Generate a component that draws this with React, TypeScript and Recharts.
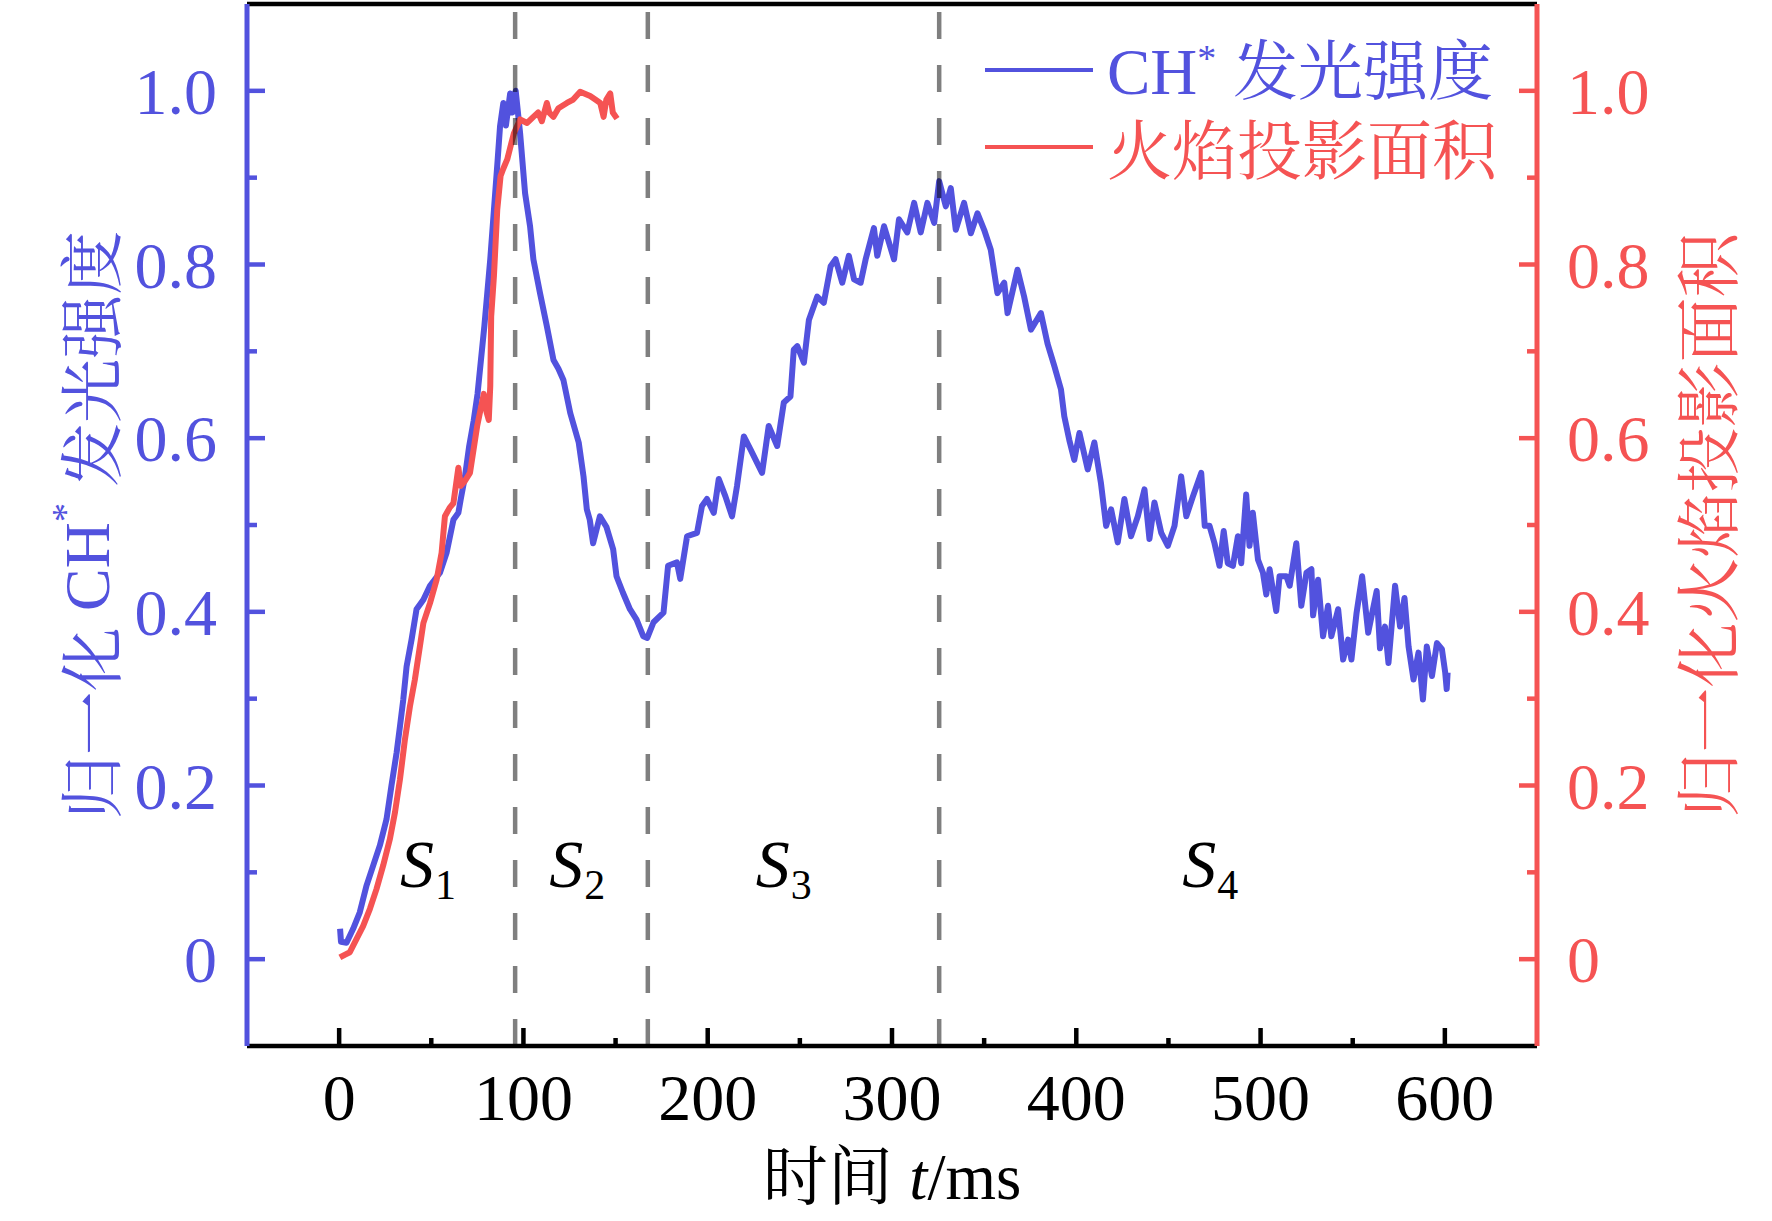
import React from "react";
import {
  LineChart,
  Line,
  XAxis,
  YAxis,
  ReferenceLine,
  ReferenceDot,
  Legend,
  Label,
} from "recharts";

const BLUE = "#5252DE";
const RED = "#F55353";
const SERIF = '"Liberation Serif", "Times New Roman", serif';
const CJK = '"Noto Serif CJK SC", "Noto Sans CJK SC", serif';

const xTicks = [0, 50, 100, 150, 200, 250, 300, 350, 400, 450, 500, 550, 600];
const yTicks = [0, 0.1, 0.2, 0.3, 0.4, 0.5, 0.6, 0.7, 0.8, 0.9, 1.0];

// stage boundaries (ms)
const stageBounds = [95.5, 167.5, 325.6];

// stage name anchors: [t (ms), value, subscript]
const stageLabels: [number, number, string][] = [
  [33, 0.083, "1"],
  [114, 0.083, "2"],
  [226, 0.083, "3"],
  [457.5, 0.083, "4"],
];

// normalised CH* intensity: [t (ms), value]
const chPoints: [number, number][] = [
  [0.5, 0.035], [1, 0.02], [4, 0.019], [7.6, 0.035], [11.2, 0.054], [14.9, 0.085],
  [18.5, 0.108], [22.1, 0.131], [25.7, 0.161], [28.4, 0.2], [31.2, 0.238], [33, 0.268],
  [34.8, 0.299], [36.6, 0.337], [39.3, 0.368], [42, 0.403], [45.7, 0.414], [49.3, 0.43],
  [54.7, 0.445], [58.3, 0.468], [62, 0.506], [64.7, 0.514], [66, 0.53], [68.3, 0.556],
  [70.5, 0.59], [73, 0.62], [75.1, 0.651], [78.8, 0.729], [82, 0.806], [84, 0.863],
  [86, 0.92], [87.3, 0.959], [89.1, 0.986], [90.5, 0.96], [92.8, 0.997], [94, 0.975],
  [95.8, 1.0], [98.2, 0.951], [100.9, 0.882], [103.6, 0.844], [105.4, 0.806], [109, 0.767],
  [112.7, 0.729], [116.3, 0.69], [119, 0.68], [121.7, 0.667], [125.4, 0.629], [130, 0.595],
  [132.6, 0.556], [134.4, 0.518], [136, 0.506], [137.8, 0.479], [141.5, 0.51], [145, 0.498],
  [148.7, 0.472], [150.5, 0.441], [154, 0.422], [157.8, 0.403], [161.4, 0.391], [165, 0.372],
  [167.2, 0.37], [170.6, 0.388], [176, 0.399], [178.5, 0.453], [183.3, 0.457], [185.1, 0.438],
  [188.8, 0.487], [194.2, 0.491], [196.9, 0.522], [199.6, 0.53], [203.3, 0.514], [206, 0.553],
  [209.6, 0.533], [213.2, 0.51], [215.9, 0.545], [219.6, 0.602], [223.2, 0.587], [229.5, 0.56],
  [233.1, 0.614], [237.7, 0.591], [241.3, 0.641], [244.9, 0.648], [246.7, 0.702], [248.6, 0.706],
  [252.2, 0.687], [254.9, 0.736], [259.4, 0.763], [263, 0.756], [266.7, 0.798], [269.4, 0.806],
  [273, 0.779], [276.6, 0.81], [279.4, 0.783], [283, 0.779], [285.7, 0.806], [290.2, 0.842],
  [292, 0.81], [295.7, 0.844], [301.1, 0.806], [303.8, 0.852], [308.3, 0.837], [312, 0.871],
  [315.6, 0.837], [319.2, 0.871], [322.9, 0.848], [325.6, 0.896], [329.2, 0.867], [331.9, 0.888],
  [334.6, 0.84], [339.1, 0.871], [342.8, 0.836], [346.4, 0.859], [350, 0.84], [353.6, 0.817],
  [357.2, 0.767], [360.9, 0.779], [362.7, 0.744], [368.1, 0.794], [371.7, 0.763], [375.4, 0.725],
  [380.8, 0.744], [384.4, 0.709], [388.1, 0.683], [391.7, 0.656], [393.5, 0.625], [396.2, 0.598],
  [398.9, 0.575], [401.7, 0.606], [406.2, 0.564], [409.8, 0.595], [413.4, 0.548], [416.2, 0.499],
  [418.9, 0.518], [422.5, 0.48], [426.1, 0.53], [429.7, 0.487], [433.4, 0.51], [437, 0.541],
  [439.7, 0.484], [442.4, 0.526], [446.1, 0.491], [449.7, 0.476], [453.3, 0.499], [456.9, 0.556],
  [459.7, 0.51], [463.3, 0.533], [467.8, 0.56], [469.7, 0.499], [472.3, 0.499], [475, 0.479],
  [477.7, 0.453], [480, 0.493], [482.2, 0.456], [485, 0.453], [487.7, 0.487], [489.5, 0.456],
  [492.2, 0.535], [494, 0.476], [495.8, 0.514], [498.6, 0.46], [501.3, 0.445], [503.1, 0.42],
  [504.9, 0.449], [508.5, 0.401], [510.3, 0.441], [514, 0.441], [515.8, 0.43], [519.4, 0.479],
  [522.1, 0.407], [524.9, 0.445], [527.6, 0.449], [528.5, 0.396], [531.2, 0.437], [533.9, 0.372],
  [536.6, 0.407], [538.4, 0.372], [542.1, 0.403], [544.8, 0.345], [547.5, 0.368], [549.3, 0.345],
  [552.1, 0.399], [555.1, 0.441], [558.4, 0.376], [563, 0.424], [564.8, 0.358], [567.5, 0.383],
  [569.4, 0.341], [573, 0.43], [575.7, 0.383], [578.1, 0.416], [580.3, 0.36], [583, 0.322],
  [585.7, 0.353], [588.1, 0.299], [590.2, 0.36], [593, 0.326], [595.7, 0.364], [598.4, 0.357],
  [600.2, 0.33], [601, 0.311], [601.5, 0.33],
];

// normalised flame projected area: [t (ms), value]
const flamePoints: [number, number][] = [
  [0.4, 0.002], [3, 0.005], [5.8, 0.008], [9.4, 0.023], [13, 0.038], [16.7, 0.058],
  [20.3, 0.081], [23.9, 0.108], [27.5, 0.138], [30.3, 0.169], [33, 0.207], [35.7, 0.253],
  [38.4, 0.291], [41.1, 0.322], [43.8, 0.36], [45.7, 0.387], [49.3, 0.41], [52.9, 0.437],
  [55.6, 0.468], [57.4, 0.51], [60, 0.52], [62, 0.525], [64.7, 0.566], [66, 0.545],
  [68, 0.55], [71, 0.56], [74.9, 0.614], [78.5, 0.651], [80, 0.63], [81.2, 0.621],
  [82, 0.66], [82.5, 0.74], [84, 0.787], [85.8, 0.863], [87.6, 0.902], [89, 0.91],
  [91.2, 0.921], [94.8, 0.951], [98.2, 0.967], [102, 0.963], [105.4, 0.97], [108, 0.975],
  [110, 0.965], [112.7, 0.986], [114, 0.975], [116.3, 0.97], [119, 0.98], [123.6, 0.986],
  [127, 0.99], [130.8, 0.999], [133, 0.997], [136.2, 0.994], [139, 0.99], [141.7, 0.986],
  [143.5, 0.97], [145, 0.99], [147.1, 0.997], [148.5, 0.975], [150.8, 0.968],
];

const chData = chPoints.map(([t, v]) => ({ t, v }));
const flameData = flamePoints.map(([t, v]) => ({ t, v }));

function formatY(v: number) {
  return v === 0 ? "0" : v.toFixed(1);
}

function BottomTick(props: any) {
  const { x, y, payload } = props;
  const major = payload.value % 100 === 0;
  return (
    <g>
      <line x1={x} x2={x} y1={y} y2={y - (major ? 18 : 8)} stroke="#000" strokeWidth={4.5} />
      {major && (
        <text x={x} y={y + 74} textAnchor="middle" fontFamily={SERIF} fontSize={66} fill="#000">
          {payload.value}
        </text>
      )}
    </g>
  );
}

function makeSideTick(side: "left" | "right", color: string) {
  return function SideTick(props: any) {
    const { x, y, payload } = props;
    const major = Math.round(payload.value * 10) % 2 === 0;
    const dir = side === "left" ? 1 : -1;
    return (
      <g>
        <line x1={x} x2={x + dir * (major ? 18 : 10)} y1={y} y2={y} stroke={color} strokeWidth={4.5} />
        {major && (
          <text
            x={x - dir * 30}
            y={y}
            dy={23}
            textAnchor={side === "left" ? "end" : "start"}
            fontFamily={SERIF}
            fontSize={66}
            fill={color}
          >
            {formatY(payload.value)}
          </text>
        )}
      </g>
    );
  };
}

const LeftTick = makeSideTick("left", BLUE);
const RightTick = makeSideTick("right", RED);

function StageMark(props: any) {
  const { cx, cy, payload } = props;
  return (
    <text x={cx} y={cy} fontFamily={SERIF} fontSize={68} fill="#000">
      <tspan fontStyle="italic">S</tspan>
      <tspan dx={1} dy={12} fontSize={42}>
        {payload}
      </tspan>
    </text>
  );
}

function LeftTitle(props: any) {
  const { viewBox } = props;
  const cx = viewBox.x - 60;
  const cy = viewBox.y + viewBox.height / 2;
  return (
    <text
      x={cx}
      y={cy}
      transform={`rotate(-90 ${cx} ${cy})`}
      textAnchor="middle"
      dominantBaseline="central"
      fontFamily={CJK}
      fontSize={64}
      fill={BLUE}
    >
      归一化{"\u00a0"}
      <tspan fontFamily={SERIF}>CH</tspan>
      <tspan fontFamily={SERIF} fontSize={38} dy={-22}>*</tspan>
      <tspan dy={22}>{"\u00a0"}发光强度</tspan>
    </text>
  );
}

function RightTitle(props: any) {
  const { viewBox } = props;
  const cx = viewBox.x + viewBox.width + 67;
  const cy = viewBox.y + viewBox.height / 2;
  return (
    <text
      x={cx}
      y={cy}
      transform={`rotate(-90 ${cx} ${cy})`}
      textAnchor="middle"
      dominantBaseline="central"
      fontFamily={CJK}
      fontSize={65}
      fill={RED}
    >
      归一化火焰投影面积
    </text>
  );
}

function BottomTitle(props: any) {
  const { viewBox } = props;
  const cx = viewBox.x + viewBox.width / 2;
  return (
    <text x={cx} y={viewBox.y + 153} textAnchor="middle" fontFamily={CJK} fontSize={65} fill="#000">
      时间{"\u00a0"}
      <tspan fontFamily={SERIF} fontStyle="italic">t</tspan>
      <tspan fontFamily={SERIF}>/ms</tspan>
    </text>
  );
}

const legendItems = [
  {
    color: BLUE,
    label: (
      <>
        <span style={{ fontFamily: SERIF }}>CH</span>
        <sup style={{ fontFamily: SERIF, fontSize: 38, lineHeight: 0 }}>*</sup>
        {"\u00a0"}发光强度
      </>
    ),
  },
  { color: RED, label: <>火焰投影面积</> },
];

function renderLegend() {
  return (
    <div style={{ fontFamily: CJK, fontSize: 65, lineHeight: 1 }}>
      {legendItems.map((item, i) => (
        <div
          key={i}
          style={{
            display: "flex",
            alignItems: "center",
            height: 77,
            color: item.color,
            whiteSpace: "nowrap",
          }}
        >
          <svg width={108} height={8} style={{ flex: "none" }}>
            <line x1={0} x2={108} y1={4} y2={4} stroke={item.color} strokeWidth={4} />
          </svg>
          <span style={{ marginLeft: 14, lineHeight: 1 }}>{item.label}</span>
        </div>
      ))}
    </div>
  );
}

export default function App() {
  return (
    <div style={{ position: "absolute", left: 0, top: 0, background: "#fff" }}>
      <LineChart width={1772} height={1221} margin={{ top: 3, right: 135, bottom: 75, left: 147 }}>
        <XAxis
          xAxisId={0}
          dataKey="t"
          type="number"
          domain={[-50, 650]}
          ticks={xTicks}
          interval={0}
          allowDataOverflow
          height={100}
          tickSize={0}
          tickMargin={0}
          tickLine={false}
          tick={<BottomTick />}
          axisLine={{ stroke: "#000", strokeWidth: 4.5 }}
        >
          <Label content={<BottomTitle />} />
        </XAxis>
        <XAxis
          xAxisId="top"
          orientation="top"
          type="number"
          domain={[-50, 650]}
          allowDataOverflow
          height={1}
          tick={false}
          tickLine={false}
          axisLine={{ stroke: "#000", strokeWidth: 4.5 }}
        />
        <YAxis
          yAxisId="left"
          type="number"
          domain={[-0.1, 1.1]}
          ticks={yTicks}
          interval={0}
          allowDataOverflow
          width={100}
          tickSize={0}
          tickMargin={0}
          tickLine={false}
          tick={<LeftTick />}
          axisLine={{ stroke: BLUE, strokeWidth: 5 }}
        >
          <Label content={<LeftTitle />} />
        </YAxis>
        <YAxis
          yAxisId="right"
          orientation="right"
          type="number"
          domain={[-0.1, 1.1]}
          ticks={yTicks}
          interval={0}
          allowDataOverflow
          width={100}
          tickSize={0}
          tickMargin={0}
          tickLine={false}
          tick={<RightTick />}
          axisLine={{ stroke: RED, strokeWidth: 5 }}
        >
          <Label content={<RightTitle />} />
        </YAxis>
        <Line
          yAxisId="left"
          data={chData}
          dataKey="v"
          type="linear"
          stroke={BLUE}
          strokeWidth={6}
          strokeLinejoin="round"
          dot={false}
          isAnimationActive={false}
        />
        <Line
          yAxisId="right"
          data={flameData}
          dataKey="v"
          type="linear"
          stroke={RED}
          strokeWidth={6}
          strokeLinejoin="round"
          dot={false}
          isAnimationActive={false}
        />
        {stageBounds.map((t) => (
          <ReferenceLine
            key={t}
            x={t}
            yAxisId="left"
            stroke="#000"
            strokeOpacity={0.5}
            strokeWidth={4.5}
            strokeDasharray="27 26"
          />
        ))}
        {stageLabels.map(([t, v, n]) => (
          <ReferenceDot
            key={n}
            x={t}
            y={v}
            yAxisId="left"
            r={0}
            shape={(p: any) => <StageMark cx={p.cx} cy={p.cy} payload={n} />}
          />
        ))}
        <Legend
          layout="vertical"
          align="center"
          verticalAlign="middle"
          content={renderLegend}
          wrapperStyle={{ left: 985, top: 31, width: 560, height: 160 }}
        />
      </LineChart>
    </div>
  );
}
